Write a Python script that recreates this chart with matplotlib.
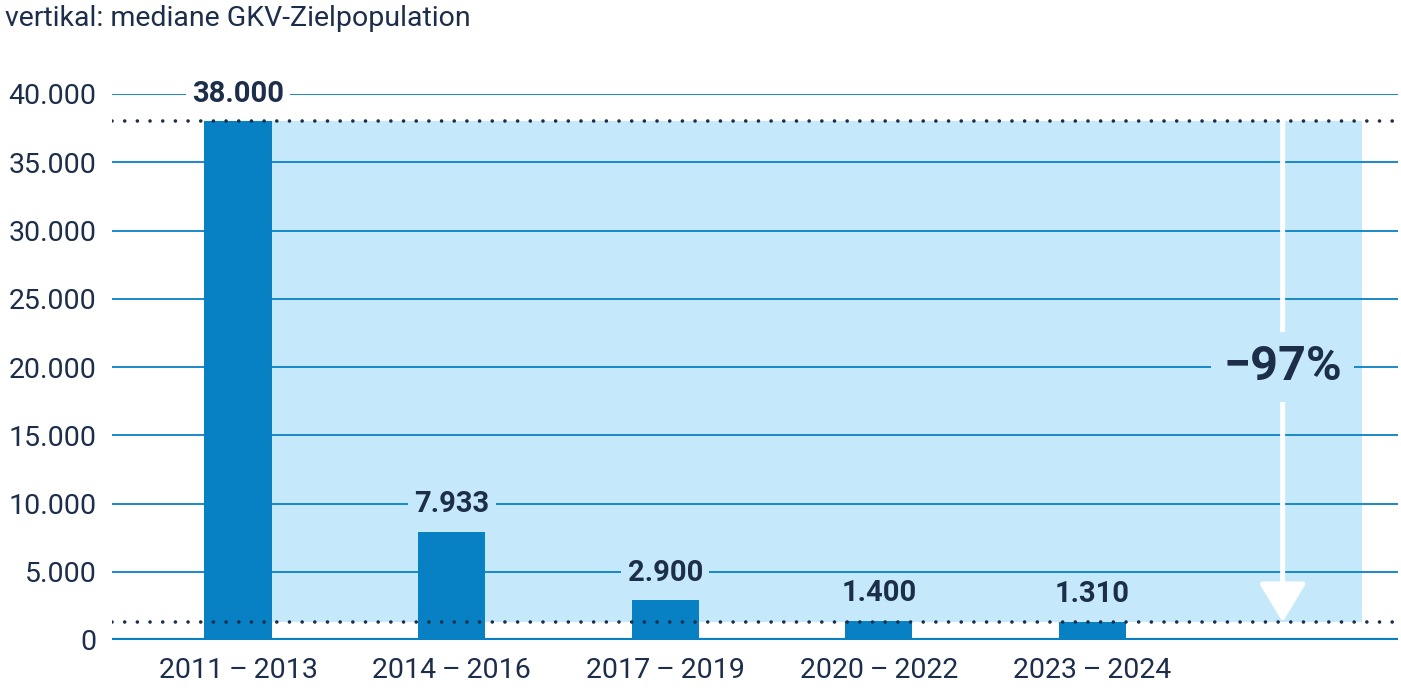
import matplotlib
matplotlib.use("Agg")
import matplotlib.pyplot as plt
import matplotlib.ticker as mticker

# ── data ──────────────────────────────────────────────────────────────────────
periods = ["2011\u2009–\u20092013", "2014\u2009–\u20092016", "2017\u2009–\u20092019",
           "2020\u2009–\u20092022", "2023\u2009–\u20092024"]
values = [38000, 7933, 2900, 1400, 1310]
value_labels = ["38.000", "7.933", "2.900", "1.400", "1.310"]
y_ticks = [0, 5000, 10000, 15000, 20000, 25000, 30000, 35000, 40000]
change_label = "\u221297%"
subtitle = "vertikal: mediane GKV-Zielpopulation"

# ── style ─────────────────────────────────────────────────────────────────────
NAVY = "#1c2e4a"
BLUE = "#0880c4"
BAND = "#c5e9fb"
plt.rcParams["font.family"] = ["Roboto", "DejaVu Sans"]

fig = plt.figure(figsize=(14.01, 7.0), dpi=100)
ax = fig.add_axes([112 / 1401, 1 - 640 / 700, (1398 - 112) / 1401, (640 - 94) / 700])

x = list(range(len(values)))
arrow_x = 4.89
band_right = 5.26

# light blue band between first and last value
ax.fill_between([0, band_right], values[-1], values[0], color=BAND, lw=0, zorder=0)

# gridlines
for t in y_ticks[1:]:
    ax.axhline(t, color=BLUE, lw=1.3, zorder=1)
ax.axhline(0, color=BLUE, lw=3, zorder=4)

# bars
ax.bar(x, values, width=0.314, color=BLUE, zorder=3)

# dotted reference lines
for v in (values[0], values[-1]):
    ax.axhline(v, color=NAVY, lw=2.6, linestyle=(0, (0.01, 3.5)),
               dash_capstyle="round", zorder=5)

# value labels
for i, (v, lab) in enumerate(zip(values, value_labels)):
    bg = "white" if i == 0 else BAND
    ax.annotate(lab, xy=(i, v), xytext=(0, 20), textcoords="offset points",
                ha="center", va="center", fontsize=21,
                fontweight="bold" if i == 0 else "semibold", color=NAVY,
                bbox=dict(boxstyle="square,pad=0.22", fc=bg, ec="none"),
                zorder=6, annotation_clip=False)

# arrow for the decrease
ax.annotate("", xy=(arrow_x, values[-1]), xytext=(arrow_x, values[0]),
            arrowprops=dict(arrowstyle="-|>,head_length=2.4,head_width=1.45",
                            mutation_scale=10, color="white", lw=3.6,
                            shrinkA=0, shrinkB=0),
            zorder=4)
ax.text(arrow_x, 20000, change_label, ha="center", va="center", fontsize=35,
        fontweight="semibold", color=NAVY, zorder=6,
        bbox=dict(boxstyle="square,pad=0.25", fc=BAND, ec="none"))

# axes
ax.set_xlim(-0.59, 5.43)
ax.set_ylim(0, 40000)
ax.set_yticks(y_ticks)
ax.yaxis.set_major_formatter(
    mticker.FuncFormatter(lambda v, p: f"{int(v):,}".replace(",", ".")))
ax.set_xticks(x)
ax.set_xticklabels(periods)
ax.tick_params(axis="both", length=0, labelsize=20.5, labelcolor=NAVY)
ax.tick_params(axis="x", pad=12)
ax.tick_params(axis="y", pad=11)
for s in ax.spines.values():
    s.set_visible(False)

fig.text(5 / 1401, 1 - 19 / 700, subtitle, ha="left", va="center",
         fontsize=20.5, color=NAVY)

fig.savefig("out.png", dpi=100, facecolor="white")
